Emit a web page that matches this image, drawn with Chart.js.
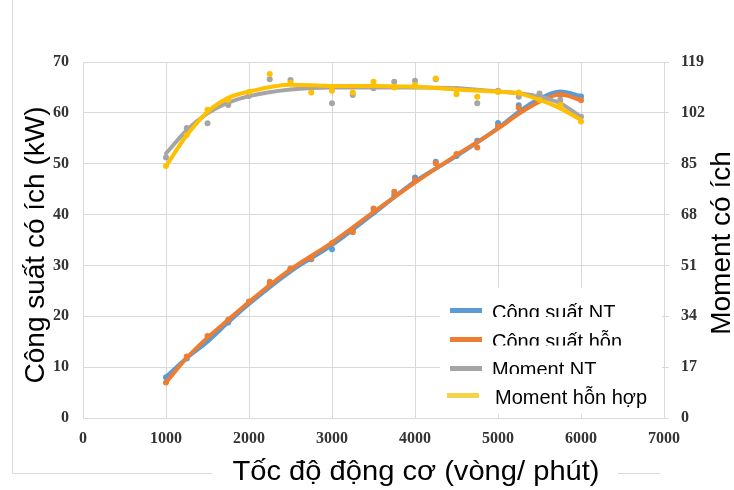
<!DOCTYPE html>
<html>
<head>
<meta charset="utf-8">
<script src="https://cdn.jsdelivr.net/npm/chart.js@4.4.0/dist/chart.umd.min.js"></script>
<style>
  html, body { margin: 0; padding: 0; background: #fff; }
</style>
</head>
<body>
<canvas id="engineChart" width="734" height="490"></canvas>
<script>
// measured points (rpm)
const rpm = [1000, 1250, 1500, 1750, 2000, 2250, 2500, 2750, 3000, 3250, 3500,
             3750, 4000, 4250, 4500, 4750, 5000, 5250, 5500, 5750, 6000];

// power, kW (left axis)
const powerNT  = [8.0, 11.7, 15.4, 18.8, 22.8, 26.2, 29.3, 31.2, 33.2, 36.9, 40.4,
                  43.8, 47.3, 50.4, 51.5, 54.5, 58.0, 61.5, 63.0, 63.5, 63.2];
const powerMix = [7.0, 12.1, 16.1, 19.3, 22.9, 26.8, 29.4, 31.4, 34.4, 36.5, 41.2,
                  44.5, 46.8, 50.1, 51.9, 53.2, 57.3, 61.0, 62.5, 63.5, 62.5];

// moment (right axis)
const momentNT  = [87.1, 96.9, 98.5, 104.6, 107.6, 113.2, 113.0, 110.2, 105.2, 108.0, 110.2,
                   112.4, 112.7, 113.2, 110.0, 105.2, 109.4, 107.4, 108.5, 106.3, 100.7];
const momentMix = [84.2, 94.6, 103.0, 106.3, 109.0, 115.0, 112.1, 108.8, 109.4, 108.8, 112.4,
                   110.5, 111.3, 113.5, 108.2, 107.4, 109.0, 108.8, 106.3, 104.6, 99.1];

// trend lines
const trendRpm = [1000, 1250, 1500, 1750, 2000, 2500, 3000, 3500, 4000, 4500, 5000, 5250, 5500, 5750, 6000];
const powerNTTrend   = [8.1, 11.8, 15.0, 18.8, 22.4, 28.8, 34.0, 40.2, 46.5, 51.5, 57.0, 60.2, 62.8, 64.2, 63.3];
const powerMixTrend  = [7.0, 11.8, 15.8, 19.3, 22.8, 29.2, 34.5, 40.5, 46.3, 51.7, 56.9, 59.8, 62.2, 63.6, 62.5];
const momentNTTrend  = [88.4, 96.2, 101.8, 105.4, 107.6, 109.8, 110.5, 110.5, 110.5, 110.2, 109.1, 108.5, 107.4, 105.2, 100.6];
const momentMixTrend = [84.2, 94.5, 102.3, 107.0, 109.1, 111.4, 111.0, 111.0, 110.7, 109.8, 109.1, 108.5, 106.3, 103.5, 99.6];

const legendLabels = ['Công suất NT', 'Công suất hỗn', 'Moment NT', 'Moment hỗn hợp'];

const BLUE = '#5B9BD5', ORANGE = '#ED7D31', GRAY = '#A5A5A5', YELLOW = '#FFC000';
const GRID = '#D9D9D9';
const TITLE_FONT = '28px "Liberation Sans", Arial, sans-serif';

function toPoints(xs, ys) {
    return xs.map((x, i) => ({ x: x, y: ys[i] }));
}

function trend(label, xs, ys, color, axis, order) {
    return {
        label: label,
        data: toPoints(xs, ys),
        yAxisID: axis,
        showLine: true,
        borderColor: color,
        borderWidth: 4,
        borderCapStyle: 'round',
        cubicInterpolationMode: 'monotone',
        pointRadius: 0,
        order: order
    };
}

function dots(label, xs, ys, color, axis, order) {
    return {
        label: label,
        data: toPoints(xs, ys),
        yAxisID: axis,
        showLine: false,
        backgroundColor: color,
        borderColor: color,
        pointRadius: 3,
        pointBorderWidth: 0,
        order: order
    };
}

function rotatedText(c, text, x, y, angle) {
    c.save();
    c.translate(x, y);
    c.rotate(angle);
    c.fillStyle = '#000';
    c.font = TITLE_FONT;
    c.textAlign = 'center';
    c.textBaseline = 'middle';
    c.fillText(text, 0, 0);
    c.restore();
}

// frame round the chart, with a gap for the x title
const framePlugin = {
    id: 'frame',
    beforeDraw(chart) {
        const c = chart.ctx;
        c.save();
        c.fillStyle = '#fff';
        c.fillRect(0, 0, chart.width, chart.height);
        c.strokeStyle = GRID;
        c.lineWidth = 1;
        c.beginPath();
        c.moveTo(12.5, 0);
        c.lineTo(12.5, 473.5);
        c.lineTo(212, 473.5);
        c.moveTo(618, 473.5);
        c.lineTo(660, 473.5);
        c.stroke();
        c.restore();
    }
};

// legend box inside the plot + axis titles
const legendPlugin = {
    id: 'boxLegend',
    afterDatasetsDraw(chart) {
        const c = chart.ctx;
        const swatch = [BLUE, ORANGE, GRAY, '#F4D24A'];
        const swY = [310.5, 339.5, 368.5, 395.5];
        const swX = [450, 450, 450, 447];
        const textX = [492, 492, 492, 495];
        const base = [319, 347.5, 376, 404];
        const clipY = [317, 345.5, 374, 420];
        c.save();
        c.fillStyle = '#fff';
        c.fillRect(440, 288, 222, 126);
        c.lineWidth = 5;
        legendLabels.forEach((lab, i) => {
            c.strokeStyle = swatch[i];
            c.beginPath();
            c.moveTo(swX[i], swY[i]);
            c.lineTo(swX[i] + 32, swY[i]);
            c.stroke();
            c.save();
            c.beginPath();
            c.rect(textX[i] - 2, base[i] - 30, 200, clipY[i] - base[i] + 30);
            c.clip();
            c.fillStyle = '#000';
            c.font = '20px "Liberation Sans", Arial, sans-serif';
            c.textBaseline = 'alphabetic';
            c.textAlign = 'left';
            c.fillText(lab, textX[i], base[i]);
            c.restore();
        });
        c.restore();
    },
    afterDraw(chart) {
        const c = chart.ctx;
        rotatedText(c, 'Công suất có ích (kW)', 36, 245, -Math.PI / 2);
        rotatedText(c, 'Moment có ích', 722, 243, -Math.PI / 2);
        c.save();
        c.font = TITLE_FONT;
        c.fillStyle = '#000';
        c.textAlign = 'center';
        c.textBaseline = 'middle';
        c.translate(416, 472);
        c.scale(1.04, 1);
        c.fillText('Tốc độ động cơ (vòng/ phút)', 0, 0);
        c.restore();
    }
};

const tickFont = { family: '"Liberation Serif", "Times New Roman", serif', size: 16, weight: 'bold' };

const ctx = document.getElementById('engineChart').getContext('2d');

const engineChart = new Chart(ctx, {
    type: 'scatter',
    data: {
        datasets: [
            trend('Moment hỗn hợp', trendRpm, momentMixTrend, YELLOW, 'y1', 2),
            dots('Moment hỗn hợp', rpm, momentMix, YELLOW, 'y1', 1),
            trend('Moment NT', trendRpm, momentNTTrend, GRAY, 'y1', 4),
            dots('Moment NT', rpm, momentNT, GRAY, 'y1', 3),
            trend('Công suất hỗn', trendRpm, powerMixTrend, ORANGE, 'y', 6),
            dots('Công suất hỗn', rpm, powerMix, ORANGE, 'y', 5),
            trend('Công suất NT', trendRpm, powerNTTrend, BLUE, 'y', 8),
            dots('Công suất NT', rpm, powerNT, BLUE, 'y', 7)
        ]
    },
    options: {
        responsive: false,
        animation: false,
        layout: { padding: { top: 62, left: 0, right: 0, bottom: 0 } },
        plugins: {
            legend: { display: false },
            tooltip: { enabled: false }
        },
        scales: {
            x: {
                type: 'linear',
                min: 0,
                max: 7000,
                ticks: {
                    stepSize: 1000,
                    color: '#333',
                    font: tickFont,
                    padding: 11,
                    callback: v => String(v)
                },
                grid: { color: GRID, drawTicks: false },
                border: { color: GRID },
                afterFit(scale) { scale.height = 72; }
            },
            y: {
                position: 'left',
                min: 0,
                max: 70,
                ticks: { stepSize: 10, color: '#333', font: tickFont, padding: 14 },
                grid: { color: GRID, drawTicks: false },
                border: { color: GRID },
                afterFit(scale) { scale.width = 83; }
            },
            y1: {
                position: 'right',
                min: 0,
                max: 119,
                ticks: { stepSize: 17, color: '#333', font: tickFont, padding: 12 },
                grid: { drawOnChartArea: false, color: GRID, tickLength: 5 },
                border: { color: GRID },
                afterFit(scale) { scale.width = 70; }
            }
        }
    },
    plugins: [framePlugin, legendPlugin]
});
</script>
</body>
</html>
